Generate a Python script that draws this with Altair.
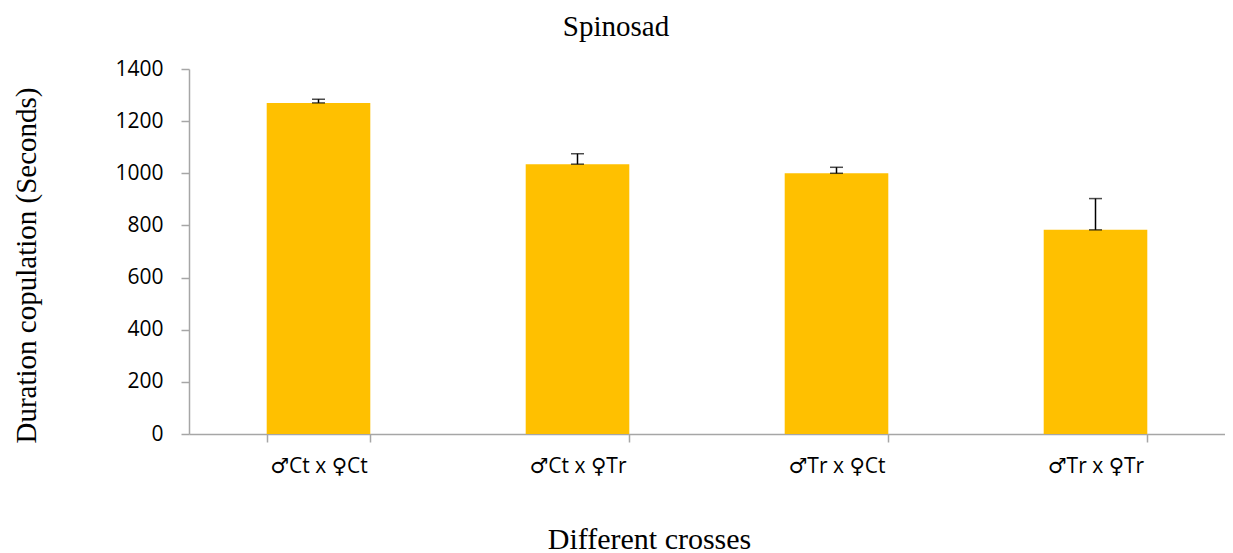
import altair as alt
import pandas as pd

crosses = ["♂Ct x ♀Ct", "♂Ct x ♀Tr", "♂Tr x ♀Ct", "♂Tr x ♀Tr"]
duration = [1270, 1035, 1000, 783]
error = [14, 40, 23, 120]

df = pd.DataFrame({"cross": crosses, "mean": duration, "err": error})

LABEL_FONT = "'Open Sans', 'DejaVu Sans', sans-serif"
SERIF = "Liberation Serif"

x_enc = alt.X(
    "cross:N",
    sort=crosses,
    scale=alt.Scale(paddingInner=0.6, paddingOuter=0.3),
    axis=alt.Axis(
        title="Different crosses",
        titleFont=SERIF,
        titleFontSize=30,
        titleFontWeight="normal",
        titleColor="black",
        titleX=460,
        titleY=114,
        titleBaseline="alphabetic",
        titleAlign="center",
        labelFont=LABEL_FONT,
        labelFontSize=21,
        labelColor="black",
        labelAngle=0,
        labelBaseline="alphabetic",
        labelPadding=30,
        tickBand="extent",
        tickSize=8,
        tickColor="#a6a6a6",
        tickWidth=1.5,
        domainColor="#a6a6a6",
        domainWidth=1.5,
    ),
)

y_scale = alt.Scale(domain=[0, 1400])

bars = alt.Chart(df).mark_bar(color="#FFC000").encode(
    x=x_enc,
    y=alt.Y(
        "mean:Q",
        scale=y_scale,
        axis=alt.Axis(
            title="Duration copulation (Seconds)",
            titleFont=SERIF,
            titleFontSize=29,
            titleFontWeight="normal",
            titleColor="black",
            titleX=-154,
            titleY=196,
            titleBaseline="alphabetic",
            titleAlign="center",
            values=[0, 200, 400, 600, 800, 1000, 1200, 1400],
            format="d",
            labelFont=LABEL_FONT,
            labelFontSize=21,
            labelColor="black",
            labelPadding=18,
            tickSize=8,
            tickColor="#a6a6a6",
            tickWidth=1.5,
            domainColor="#a6a6a6",
            domainWidth=1.5,
            grid=False,
        ),
    ),
)

base = alt.Chart(df).transform_calculate(top="datum.mean + datum.err")

rule = base.mark_rule(color="black", strokeWidth=1.5).encode(
    x=alt.X("cross:N", sort=crosses),
    y=alt.Y("mean:Q", scale=y_scale),
    y2="top:Q",
)

cap_top = base.mark_tick(color="black", thickness=1.5, size=13).encode(
    x=alt.X("cross:N", sort=crosses),
    y=alt.Y("top:Q", scale=y_scale),
)

cap_bot = base.mark_tick(color="black", thickness=1.5, size=13).encode(
    x=alt.X("cross:N", sort=crosses),
    y=alt.Y("mean:Q", scale=y_scale),
)

chart = (
    alt.layer(bars, rule, cap_top, cap_bot)
    .properties(
        width=1036,
        height=365,
        title=alt.TitleParams(
            "Spinosad",
            font=SERIF,
            fontSize=29,
            fontWeight="normal",
            color="black",
            anchor="middle",
            frame="group",
            baseline="alphabetic",
            offset=28,
            dx=-91,
            dy=35,
        ),
        autosize=alt.AutoSizeParams(type="none"),
        padding={"left": 181, "top": 61, "right": 0, "bottom": 119},
    )
    .configure_view(stroke=None)
)

chart.save("out.html", embed_options={"renderer": "svg", "actions": False})
